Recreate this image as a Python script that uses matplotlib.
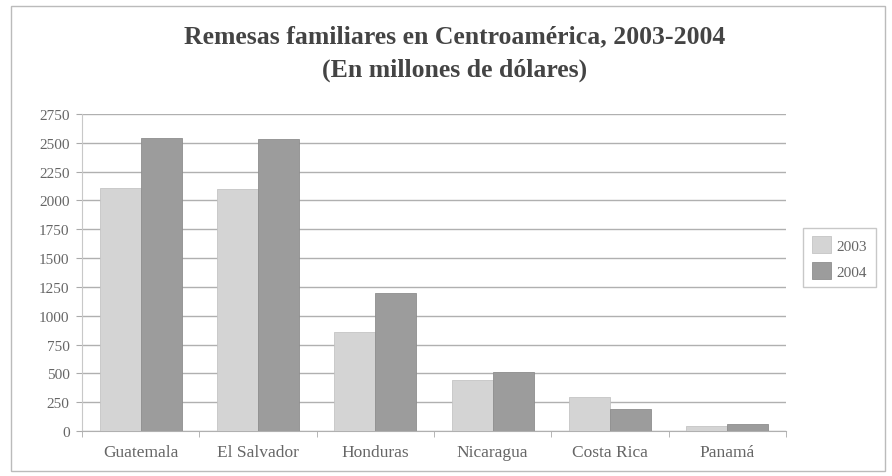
import matplotlib.pyplot as plt
import numpy as np
from matplotlib.patches import Rectangle

paises = ["Guatemala", "El Salvador", "Honduras", "Nicaragua", "Costa Rica", "Panamá"]
remesas2003 = [2110, 2100, 860, 440, 300, 45]
remesas2004 = [2540, 2530, 1200, 510, 195, 65]
yticks = [0, 250, 500, 750, 1000, 1250, 1500, 1750, 2000, 2250, 2500, 2750]

plt.rcParams["font.family"] = ["Liberation Serif", "DejaVu Serif"]

fig = plt.figure(figsize=(8.92, 4.77), dpi=100)
ax = fig.add_axes([0.092, 0.094, 0.789, 0.665])

x = np.arange(len(paises))
w = 0.35
ax.bar(x - w / 2, remesas2003, w, color="#d4d4d4", edgecolor="#c4c4c4", lw=0.6, label="2003", zorder=3)
ax.bar(x + w / 2, remesas2004, w, color="#9c9c9c", edgecolor="#8e8e8e", lw=0.6, label="2004", zorder=3)

ax.set_xlim(-0.5, len(paises) - 0.5)
ax.set_ylim(0, 2750)
ax.set_yticks(yticks)
ax.set_yticklabels([str(v) for v in yticks], fontsize=11, color="#666666")
ax.set_xticks(x)
ax.set_xticklabels(paises, fontsize=12.5, color="#666666")
ax.tick_params(axis="x", length=0, pad=9)
ax.tick_params(axis="y", length=4, color="#aaaaaa", pad=5)
ax.set_xticks(np.arange(len(paises) + 1) - 0.5, minor=True)
ax.tick_params(axis="x", which="minor", length=4, color="#aaaaaa")

ax.yaxis.grid(True, color="#b0b0b0", lw=1.0, zorder=0)
for side in ["top", "right"]:
    ax.spines[side].set_visible(False)
ax.spines["left"].set_color("#c8c8c8")
ax.spines["bottom"].set_color("#b0b0b0")

leg = ax.legend(loc="upper left", bbox_to_anchor=(1.018, 0.655), frameon=True, fontsize=11,
                handlelength=1.3, handleheight=1.3, borderpad=0.55, fancybox=False,
                labelspacing=0.6, handletextpad=0.35, borderaxespad=0.3)
leg.get_frame().set_edgecolor("#bbbbbb")
for t in leg.get_texts():
    t.set_color("#666666")

fig.text(0.51, 0.922, "Remesas familiares en Centroamérica, 2003-2004",
         ha="center", va="center", fontsize=18.5, fontweight="bold", color="#444444")
fig.text(0.51, 0.853, "(En millones de dólares)",
         ha="center", va="center", fontsize=18.5, fontweight="bold", color="#444444")

fig.patches.append(Rectangle((0.012, 0.01), 0.98, 0.975, transform=fig.transFigure,
                             fill=False, edgecolor="#bbbbbb", lw=1.0))

fig.savefig("out.png", dpi=100)
